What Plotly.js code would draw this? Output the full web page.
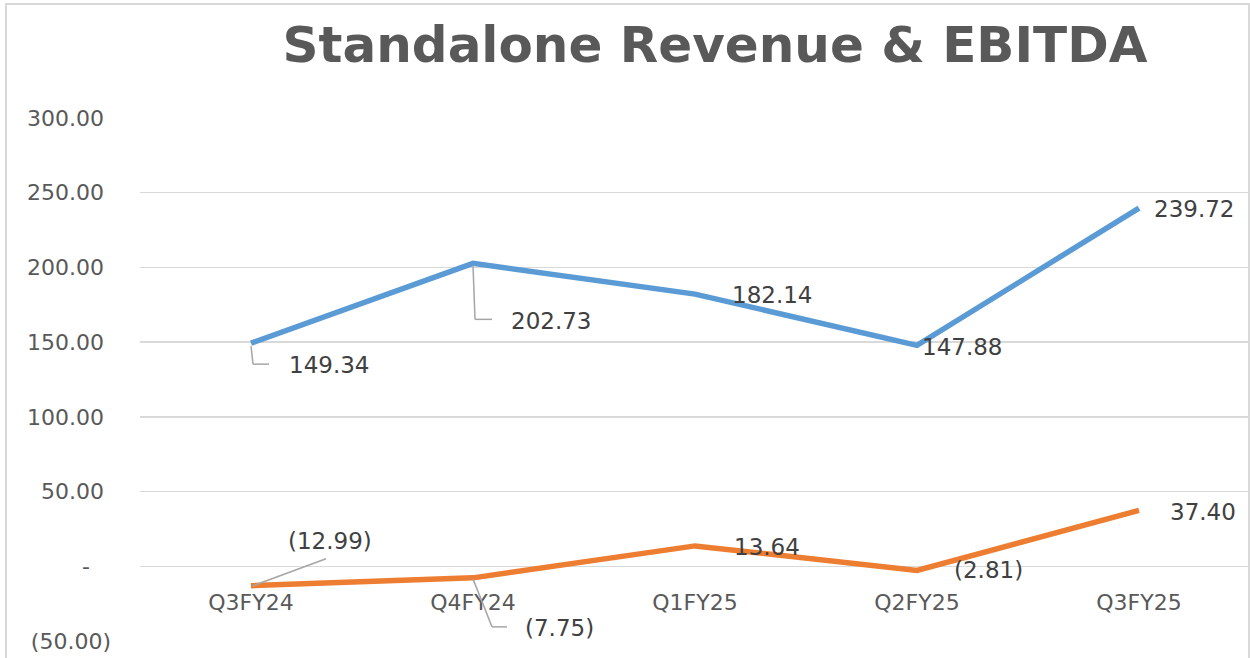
<!DOCTYPE html>
<html>
<head>
<meta charset="utf-8">
<script src="https://cdn.plot.ly/plotly-3.0.1.min.js"></script>
<style>html,body{margin:0;padding:0;background:#fff;}#chart{width:1250px;height:658px;}</style>
</head>
<body>
<div id="chart"></div>
<script>
const quarters = ["Q3FY24", "Q4FY24", "Q1FY25", "Q2FY25", "Q3FY25"];
const revenue = [149.34, 202.73, 182.14, 147.88, 239.72];
const ebitda = [-12.99, -7.75, 13.64, -2.81, 37.40];
const yTickVals = [-50, 0, 50, 100, 150, 200, 250, 300];
const yTickText = ["(50.00)", "-\u2007\u2008", "50.00\u2008", "100.00\u2008", "150.00\u2008", "200.00\u2008", "250.00\u2008", "300.00\u2008"];

function fmt(v) {
  const s = Math.abs(v).toFixed(2);
  return v < 0 ? "(" + s + ")" : s;
}

// label offsets (pixels) relative to each point
const revOffsets = [[36, -22], [36, -58], [35, -1], [3, -2], [13, -1]];
const ebOffsets = [[35, 45], [50, -50], [37, -1], [35, 0], [29, -2]];

const labelFont = {family: "DejaVu Sans", size: 23, color: "#404040"};
const annotations = [];
revenue.forEach((v, i) => annotations.push({
  x: quarters[i], y: v, xref: "x", yref: "y", text: fmt(v), showarrow: false,
  xanchor: "left", yanchor: "middle", xshift: revOffsets[i][0], yshift: revOffsets[i][1], font: labelFont
}));
ebitda.forEach((v, i) => annotations.push({
  x: quarters[i], y: v, xref: "x", yref: "y", text: fmt(v), showarrow: false,
  xanchor: "left", yanchor: "middle", xshift: ebOffsets[i][0], yshift: ebOffsets[i][1], font: labelFont
}));

const leader = {color: "#a6a6a6", width: 1.5};
function seg(cat, val, x0, y0, x1, y1) {
  return {type: "line", xref: "x", yref: "y", xsizemode: "pixel", ysizemode: "pixel",
    xanchor: cat, yanchor: val, x0: x0, y0: y0, x1: x1, y1: y1, line: leader, layer: "above"};
}
const shapes = [
  seg(quarters[0], revenue[0], 0, -3, 2, -21),
  seg(quarters[0], revenue[0], 2, -21, 18, -21),
  seg(quarters[1], revenue[1], 0, -2, 2, -56),
  seg(quarters[1], revenue[1], 2, -56, 19, -56),
  seg(quarters[0], ebitda[0], 2, 0, 75, 27),
  seg(quarters[1], ebitda[1], 0, -1, 19, -49),
  seg(quarters[1], ebitda[1], 19, -49, 34, -49),
  {type: "rect", xref: "paper", yref: "paper", x0: -0.1207, x1: 0.9991, y0: -0.05, y1: 1.218,
   line: {color: "#d9d9d9", width: 2}, fillcolor: "rgba(0,0,0,0)", layer: "below"}
];

const traces = [
  {x: quarters, y: revenue, type: "scatter", mode: "lines", name: "Revenue",
   line: {color: "#5b9bd5", width: 5.5}},
  {x: quarters, y: ebitda, type: "scatter", mode: "lines", name: "EBITDA",
   line: {color: "#ed7d31", width: 5.5}}
];

const layout = {
  width: 1250, height: 658,
  margin: {l: 140, r: 0, t: 118, b: 17},
  paper_bgcolor: "#ffffff", plot_bgcolor: "#ffffff",
  showlegend: false,
  title: {text: "Standalone Revenue & EBITDA", x: 0.572, xref: "container", xanchor: "center",
          y: 0.933, yref: "container", yanchor: "middle",
          font: {family: "DejaVu Sans", size: 50, color: "#595959", weight: "bold"}},
  xaxis: {type: "category", categoryorder: "array", categoryarray: quarters,
          range: [-0.5, 4.5], anchor: "free", position: 50 / 350,
          showgrid: false, zeroline: false, showline: false, ticks: "",
          ticklabelstandoff: 21,
          tickfont: {family: "DejaVu Sans", size: 22, color: "#595959"}},
  yaxis: {range: [-50, 300], tickvals: yTickVals, ticktext: yTickText,
          showgrid: true, gridcolor: "#d9d9d9", gridwidth: 1.5, zeroline: false,
          showline: false, ticks: "", ticklabelstandoff: 28,
          tickfont: {family: "DejaVu Sans", size: 22, color: "#595959"}},
  annotations: annotations,
  shapes: shapes
};

Plotly.newPlot("chart", traces, layout, {displayModeBar: false, staticPlot: true});
</script>
</body>
</html>
